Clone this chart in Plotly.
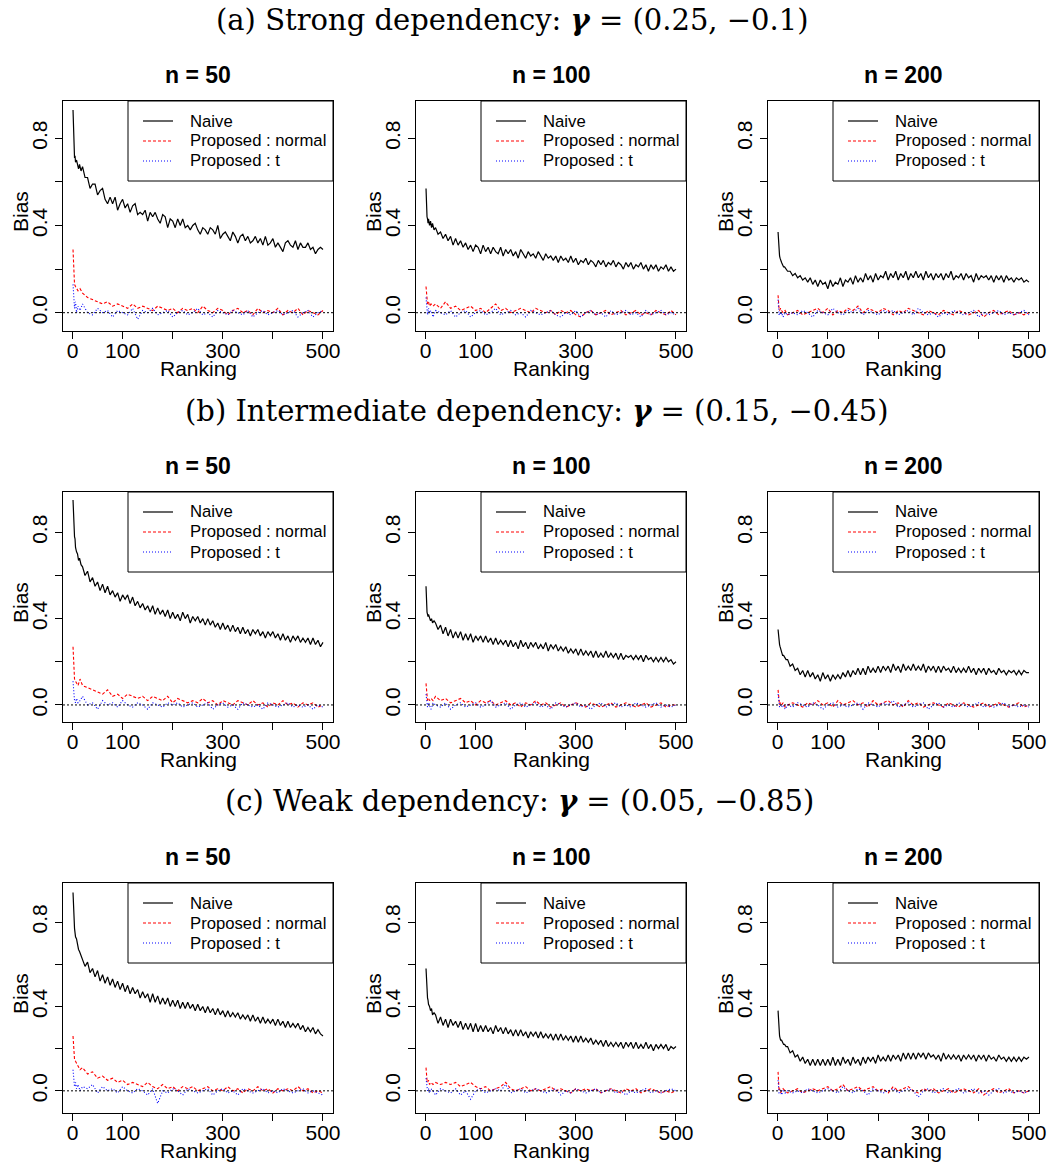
import plotly.graph_objects as go

# ---------------- data (ranks and estimated bias values) ----------------
# ranks at which the naive curves were read (denser, they are noisy bands)
RANK_FINE = [1, 2, 3, 4, 5, 6, 8, 10, 12, 14, 17,
             20, 25, 30, 35, 40, 45, 50, 55, 60, 65,
             70, 75, 80, 85, 90, 95, 100, 105, 110, 115,
             120, 125, 130, 135, 140, 145, 150, 155, 160, 165,
             170, 175, 180, 185, 190, 195, 200, 205, 210, 215,
             220, 225, 230, 235, 240, 245, 250, 255, 260, 265,
             270, 275, 280, 285, 290, 295, 300, 305, 310, 315,
             320, 325, 330, 335, 340, 345, 350, 355, 360, 365,
             370, 375, 380, 385, 390, 395, 400, 405, 410, 415,
             420, 425, 430, 435, 440, 445, 450, 455, 460, 465,
             470, 475, 480, 485, 490, 495, 500]
# ranks at which the proposed-estimator curves were read
RANK = [1, 2, 3, 4, 6, 8, 11, 15, 20, 30,
        40, 50, 60, 70, 80, 90, 100, 110, 120, 130,
        140, 150, 160, 170, 180, 190, 200, 210, 220, 230,
        240, 250, 260, 270, 280, 290, 300, 310, 320, 330,
        340, 350, 360, 370, 380, 390, 400, 410, 420, 430,
        440, 450, 460, 470, 480, 490, 500]

ROW_TITLES = ["(a) Strong dependency: <b><i>γ</i></b> = (0.25, −0.1)",
              "(b) Intermediate dependency: <b><i>γ</i></b> = (0.15, −0.45)",
              "(c) Weak dependency: <b><i>γ</i></b> = (0.05, −0.85)"]
PANEL_TITLES = ["n = 50", "n = 100", "n = 200"]
SERIES_NAMES = ["Naive", "Proposed : normal", "Proposed : t"]
X_TICKS = [0, 100, 200, 300, 400, 500]
X_TICKTEXT = ["0", "100", "", "300", "", "500"]
Y_TICKS = [0.0, 0.2, 0.4, 0.6, 0.8]
Y_TICKTEXT = ["0.0", "", "0.4", "", "0.8"]

naive_a50 = [0.93, 0.80, 0.75, 0.71, 0.72, 0.69, 0.70, 0.68, 0.66, 0.68, 0.65,
             0.67, 0.62, 0.62, 0.57, 0.59, 0.59, 0.54, 0.56, 0.57, 0.52,
             0.50, 0.53, 0.50, 0.53, 0.47, 0.50, 0.52, 0.48, 0.50, 0.46,
             0.49, 0.50, 0.45, 0.46, 0.45, 0.47, 0.42, 0.46, 0.44, 0.46,
             0.43, 0.41, 0.45, 0.44, 0.39, 0.43, 0.42, 0.39, 0.43, 0.40,
             0.43, 0.39, 0.40, 0.38, 0.40, 0.41, 0.38, 0.36, 0.39, 0.38,
             0.36, 0.39, 0.38, 0.36, 0.40, 0.34, 0.36, 0.37, 0.35, 0.33,
             0.37, 0.35, 0.32, 0.35, 0.36, 0.33, 0.35, 0.32, 0.33, 0.35,
             0.32, 0.34, 0.31, 0.35, 0.31, 0.32, 0.34, 0.30, 0.32, 0.30,
             0.28, 0.32, 0.33, 0.31, 0.30, 0.33, 0.29, 0.32, 0.30, 0.30,
             0.32, 0.29, 0.30, 0.27, 0.29, 0.30, 0.29]
red_a50 = [0.29, 0.20, 0.15, 0.13, 0.12, 0.11, 0.10, 0.11, 0.09, 0.07,
           0.06, 0.05, 0.04, 0.05, 0.03, 0.04, 0.03, 0.02, 0.04, 0.02,
           0.03, 0.02, 0.01, 0.03, 0.02, 0.01, 0.02, 0.00, 0.02, 0.01,
           0.02, 0.00, 0.03, 0.01, 0.00, 0.02, 0.01, -0.01, 0.01, 0.02,
           0.00, 0.01, -0.01, 0.02, 0.00, 0.01, 0.00, 0.02, -0.01, 0.01,
           0.00, 0.02, -0.01, 0.01, 0.00, -0.01, 0.01]
blue_a50 = [0.13, 0.07, 0.04, 0.02, 0.05, 0.00, 0.03, 0.01, 0.04, 0.00,
            -0.01, 0.02, 0.00, 0.01, -0.02, 0.01, 0.00, -0.01, 0.02, -0.03,
            0.01, 0.00, 0.02, -0.01, 0.00, 0.01, -0.02, 0.00, 0.01, -0.01,
            0.00, 0.02, -0.01, 0.00, -0.02, 0.01, 0.00, -0.01, 0.01, 0.00,
            -0.01, 0.01, -0.02, 0.00, 0.01, -0.01, 0.00, 0.01, -0.01, 0.00,
            0.01, -0.02, 0.00, 0.01, -0.02, 0.00, 0.01]

naive_a100 = [0.57, 0.47, 0.44, 0.43, 0.41, 0.43, 0.40, 0.42, 0.39, 0.41, 0.38,
              0.39, 0.36, 0.37, 0.34, 0.36, 0.33, 0.35, 0.31, 0.34, 0.31,
              0.33, 0.30, 0.32, 0.29, 0.31, 0.28, 0.31, 0.30, 0.27, 0.31,
              0.28, 0.30, 0.27, 0.30, 0.28, 0.27, 0.30, 0.26, 0.29, 0.27,
              0.29, 0.26, 0.28, 0.25, 0.29, 0.27, 0.25, 0.28, 0.26, 0.27,
              0.25, 0.28, 0.26, 0.24, 0.27, 0.25, 0.26, 0.24, 0.26, 0.23,
              0.26, 0.24, 0.25, 0.23, 0.26, 0.23, 0.25, 0.22, 0.24, 0.23,
              0.25, 0.22, 0.24, 0.23, 0.21, 0.24, 0.22, 0.24, 0.21, 0.23,
              0.22, 0.24, 0.21, 0.23, 0.22, 0.20, 0.23, 0.21, 0.23, 0.20,
              0.22, 0.21, 0.23, 0.20, 0.22, 0.19, 0.22, 0.20, 0.22, 0.19,
              0.21, 0.20, 0.22, 0.19, 0.21, 0.19, 0.20]
red_a100 = [0.12, 0.07, 0.05, 0.04, 0.05, 0.03, 0.04, 0.03, 0.04, 0.02,
            0.05, 0.02, 0.03, 0.01, 0.02, 0.03, 0.01, 0.02, 0.00, 0.02,
            0.04, 0.01, 0.02, 0.00, 0.01, 0.02, 0.01, 0.00, 0.02, 0.01,
            0.00, 0.01, -0.01, 0.01, 0.00, 0.01, -0.01, -0.02, 0.00, 0.01,
            -0.01, 0.00, 0.01, -0.01, 0.00, 0.01, -0.01, 0.00, 0.01, -0.01,
            0.00, -0.01, 0.01, 0.00, -0.01, 0.01, -0.01]
blue_a100 = [0.07, 0.03, 0.01, -0.01, 0.02, 0.00, 0.01, -0.02, 0.01, 0.00,
             -0.01, 0.01, -0.02, 0.00, 0.01, -0.02, 0.00, 0.01, -0.01, 0.00,
             0.02, -0.01, 0.00, 0.01, -0.01, 0.00, -0.02, 0.01, 0.00, -0.01,
             0.00, 0.01, -0.01, -0.02, 0.00, -0.01, 0.01, -0.02, 0.00, 0.01,
             -0.01, 0.00, -0.02, 0.01, -0.01, 0.00, 0.01, -0.01, 0.00, -0.02,
             0.01, -0.01, 0.00, 0.01, -0.01, 0.00, -0.01]

naive_a200 = [0.37, 0.31, 0.28, 0.26, 0.25, 0.24, 0.23, 0.22, 0.21, 0.21, 0.20,
              0.19, 0.19, 0.17, 0.18, 0.16, 0.17, 0.15, 0.16, 0.14, 0.16,
              0.13, 0.15, 0.12, 0.15, 0.13, 0.14, 0.11, 0.15, 0.12, 0.14,
              0.13, 0.16, 0.12, 0.15, 0.14, 0.16, 0.13, 0.17, 0.14, 0.16,
              0.14, 0.18, 0.15, 0.17, 0.14, 0.18, 0.15, 0.17, 0.16, 0.19,
              0.15, 0.18, 0.16, 0.19, 0.15, 0.18, 0.16, 0.19, 0.15, 0.18,
              0.16, 0.19, 0.16, 0.18, 0.15, 0.19, 0.16, 0.18, 0.15, 0.18,
              0.16, 0.18, 0.15, 0.18, 0.16, 0.19, 0.15, 0.17, 0.16, 0.18,
              0.15, 0.18, 0.16, 0.17, 0.14, 0.18, 0.15, 0.17, 0.16, 0.17,
              0.15, 0.17, 0.14, 0.17, 0.15, 0.17, 0.14, 0.17, 0.15, 0.16,
              0.14, 0.16, 0.15, 0.16, 0.14, 0.15, 0.14]
red_a200 = [0.08, 0.03, 0.02, 0.01, 0.02, 0.01, 0.00, 0.01, -0.01, 0.00,
            0.01, -0.01, 0.00, 0.01, 0.02, 0.00, 0.02, -0.01, 0.01, 0.00,
            0.02, 0.01, 0.03, 0.00, 0.02, 0.01, 0.00, 0.02, 0.01, -0.01,
            0.01, 0.00, 0.02, 0.01, 0.00, -0.01, 0.01, 0.00, -0.01, 0.01,
            0.00, -0.01, 0.01, 0.00, -0.01, 0.00, 0.01, -0.02, 0.00, 0.01,
            -0.01, 0.00, 0.01, -0.01, 0.00, -0.01, 0.00]
blue_a200 = [0.06, 0.01, -0.01, 0.00, -0.01, 0.00, -0.02, 0.00, -0.01, 0.00,
             -0.01, 0.01, 0.00, -0.02, 0.01, 0.00, -0.01, 0.02, 0.00, -0.01,
             0.01, 0.00, 0.02, -0.01, 0.01, 0.00, -0.01, 0.01, 0.00, 0.01,
             -0.01, 0.00, 0.01, -0.01, 0.02, 0.00, -0.01, 0.00, -0.02, 0.00,
             -0.01, 0.01, 0.00, -0.01, 0.00, 0.01, -0.02, 0.00, -0.01, 0.00,
             0.01, -0.01, 0.00, -0.01, 0.00, 0.01, -0.01]

naive_b50 = [0.95, 0.84, 0.80, 0.78, 0.77, 0.73, 0.71, 0.70, 0.67, 0.68, 0.65,
             0.64, 0.60, 0.62, 0.57, 0.59, 0.55, 0.57, 0.53, 0.56, 0.52,
             0.55, 0.51, 0.53, 0.50, 0.52, 0.48, 0.51, 0.49, 0.51, 0.47,
             0.50, 0.46, 0.48, 0.45, 0.47, 0.44, 0.46, 0.43, 0.46, 0.42,
             0.45, 0.42, 0.44, 0.41, 0.44, 0.40, 0.43, 0.40, 0.42, 0.39,
             0.43, 0.40, 0.42, 0.38, 0.41, 0.39, 0.41, 0.38, 0.40, 0.37,
             0.40, 0.37, 0.39, 0.36, 0.38, 0.35, 0.38, 0.35, 0.37, 0.34,
             0.37, 0.34, 0.36, 0.33, 0.36, 0.33, 0.35, 0.32, 0.35, 0.33,
             0.35, 0.32, 0.34, 0.31, 0.34, 0.32, 0.34, 0.31, 0.33, 0.30,
             0.33, 0.30, 0.32, 0.29, 0.32, 0.30, 0.32, 0.29, 0.31, 0.29,
             0.31, 0.28, 0.31, 0.28, 0.30, 0.27, 0.29]
red_b50 = [0.27, 0.18, 0.14, 0.12, 0.11, 0.10, 0.09, 0.12, 0.09, 0.08,
           0.07, 0.06, 0.05, 0.07, 0.04, 0.05, 0.03, 0.05, 0.04, 0.03,
           0.04, 0.02, 0.04, 0.03, 0.02, 0.04, 0.01, 0.03, 0.02, 0.01,
           0.02, 0.01, 0.03, 0.01, 0.02, 0.00, 0.02, 0.01, 0.00, 0.02,
           0.01, 0.00, 0.02, 0.00, 0.01, -0.01, 0.01, 0.00, 0.02, 0.00,
           0.01, -0.01, 0.01, 0.00, 0.01, -0.01, 0.00]
blue_b50 = [0.11, 0.05, 0.03, 0.02, 0.01, 0.03, 0.01, 0.02, 0.04, 0.00,
            0.01, -0.02, 0.02, 0.00, 0.01, -0.01, 0.02, 0.00, -0.01, 0.01,
            0.00, -0.02, 0.01, 0.00, -0.01, 0.01, 0.00, 0.01, -0.01, 0.00,
            0.01, -0.01, 0.00, 0.01, -0.02, 0.00, 0.01, -0.01, 0.00, -0.02,
            0.01, 0.00, -0.01, 0.00, -0.02, 0.01, 0.00, -0.01, 0.00, 0.01,
            -0.01, 0.00, -0.01, 0.00, -0.02, 0.00, -0.01]

naive_b100 = [0.55, 0.46, 0.43, 0.42, 0.41, 0.42, 0.40, 0.39, 0.40, 0.38, 0.39,
              0.38, 0.35, 0.37, 0.33, 0.36, 0.32, 0.35, 0.31, 0.34, 0.31,
              0.34, 0.30, 0.33, 0.30, 0.33, 0.29, 0.32, 0.30, 0.32, 0.29,
              0.32, 0.29, 0.31, 0.28, 0.31, 0.28, 0.30, 0.28, 0.30, 0.27,
              0.30, 0.27, 0.29, 0.26, 0.30, 0.27, 0.29, 0.26, 0.29, 0.27,
              0.29, 0.26, 0.28, 0.26, 0.29, 0.25, 0.28, 0.26, 0.28, 0.25,
              0.27, 0.25, 0.27, 0.24, 0.26, 0.24, 0.26, 0.23, 0.26, 0.23,
              0.25, 0.23, 0.25, 0.22, 0.25, 0.22, 0.24, 0.22, 0.25, 0.22,
              0.24, 0.22, 0.24, 0.21, 0.24, 0.21, 0.23, 0.22, 0.23, 0.21,
              0.23, 0.21, 0.23, 0.20, 0.23, 0.21, 0.22, 0.20, 0.22, 0.20,
              0.22, 0.20, 0.22, 0.20, 0.21, 0.19, 0.20]
red_b100 = [0.10, 0.05, 0.03, 0.02, 0.03, 0.02, 0.03, 0.02, 0.04, 0.02,
            0.03, 0.01, 0.02, 0.03, 0.01, 0.02, 0.00, 0.02, 0.01, 0.02,
            0.00, 0.01, 0.02, 0.00, 0.01, -0.01, 0.01, 0.00, 0.02, 0.00,
            0.01, -0.01, 0.00, 0.01, -0.01, 0.00, 0.01, 0.00, -0.01, 0.01,
            0.00, -0.01, 0.00, 0.01, -0.01, 0.00, 0.01, 0.00, -0.01, 0.00,
            0.01, -0.01, 0.00, 0.01, -0.01, 0.00, 0.00]
blue_b100 = [0.05, 0.02, 0.00, -0.01, 0.01, 0.00, -0.02, 0.01, 0.00, -0.01,
             0.01, -0.02, 0.00, 0.01, -0.01, 0.00, 0.01, -0.01, 0.00, 0.02,
             -0.01, 0.00, 0.01, -0.02, 0.00, 0.01, -0.01, 0.00, 0.01, -0.01,
             0.00, -0.02, 0.01, 0.00, -0.01, 0.00, 0.01, -0.01, 0.00, -0.02,
             0.00, 0.01, -0.01, 0.00, 0.01, -0.01, 0.00, -0.01, 0.01, 0.00,
             -0.01, 0.00, 0.01, -0.01, 0.00, -0.01, 0.00]

naive_b200 = [0.35, 0.31, 0.29, 0.28, 0.27, 0.26, 0.25, 0.23, 0.23, 0.22, 0.21,
              0.21, 0.18, 0.19, 0.16, 0.17, 0.14, 0.16, 0.13, 0.16, 0.13,
              0.15, 0.12, 0.14, 0.11, 0.15, 0.12, 0.14, 0.11, 0.14, 0.12,
              0.14, 0.12, 0.15, 0.13, 0.16, 0.13, 0.16, 0.14, 0.17, 0.14,
              0.17, 0.14, 0.18, 0.15, 0.17, 0.15, 0.18, 0.15, 0.18, 0.16,
              0.18, 0.15, 0.19, 0.16, 0.18, 0.15, 0.19, 0.16, 0.18, 0.16,
              0.19, 0.16, 0.18, 0.16, 0.19, 0.15, 0.18, 0.16, 0.18, 0.15,
              0.18, 0.15, 0.18, 0.16, 0.17, 0.15, 0.18, 0.15, 0.17, 0.15,
              0.17, 0.15, 0.18, 0.15, 0.17, 0.14, 0.17, 0.15, 0.17, 0.14,
              0.17, 0.15, 0.16, 0.14, 0.17, 0.15, 0.16, 0.14, 0.16, 0.15,
              0.16, 0.14, 0.16, 0.14, 0.16, 0.15, 0.15]
red_b200 = [0.07, 0.03, 0.01, 0.00, 0.01, 0.00, 0.01, -0.01, 0.00, 0.01,
            0.00, -0.01, 0.01, 0.00, 0.02, 0.00, 0.01, -0.01, 0.02, 0.00,
            0.01, 0.02, 0.00, 0.01, -0.01, 0.02, 0.00, 0.01, 0.02, 0.00,
            0.01, -0.01, 0.02, 0.00, 0.01, -0.01, 0.00, 0.01, 0.00, -0.01,
            0.01, 0.00, -0.01, 0.01, 0.00, -0.01, 0.00, 0.01, -0.01, 0.00,
            0.01, 0.00, -0.01, 0.00, 0.01, -0.01, 0.00]
blue_b200 = [0.05, 0.01, 0.00, -0.01, 0.00, -0.01, 0.00, -0.02, 0.00, -0.01,
             0.01, 0.00, -0.01, 0.01, 0.00, -0.02, 0.00, 0.01, -0.01, 0.00,
             -0.01, 0.00, 0.01, -0.02, 0.01, 0.00, -0.01, 0.01, 0.00, 0.02,
             -0.01, 0.00, 0.01, -0.01, 0.00, 0.01, -0.02, 0.00, 0.01, -0.01,
             0.00, -0.01, 0.01, 0.00, -0.01, 0.00, 0.01, -0.01, 0.00, -0.01,
             0.00, 0.01, -0.01, 0.00, -0.01, 0.00, -0.01]

naive_c50 = [0.94, 0.85, 0.80, 0.77, 0.75, 0.73, 0.72, 0.69, 0.67, 0.66, 0.64,
             0.63, 0.59, 0.61, 0.56, 0.58, 0.54, 0.57, 0.52, 0.55, 0.51,
             0.54, 0.50, 0.53, 0.49, 0.52, 0.48, 0.51, 0.47, 0.50, 0.46,
             0.49, 0.46, 0.48, 0.44, 0.47, 0.44, 0.46, 0.42, 0.46, 0.42,
             0.45, 0.41, 0.44, 0.41, 0.44, 0.40, 0.43, 0.40, 0.43, 0.39,
             0.42, 0.39, 0.42, 0.39, 0.41, 0.38, 0.41, 0.38, 0.40, 0.37,
             0.40, 0.37, 0.39, 0.36, 0.39, 0.36, 0.38, 0.35, 0.38, 0.35,
             0.37, 0.35, 0.37, 0.34, 0.36, 0.34, 0.36, 0.33, 0.36, 0.33,
             0.35, 0.32, 0.35, 0.32, 0.34, 0.32, 0.34, 0.31, 0.34, 0.31,
             0.33, 0.30, 0.33, 0.30, 0.32, 0.30, 0.32, 0.29, 0.31, 0.28,
             0.30, 0.28, 0.30, 0.27, 0.29, 0.27, 0.26]
red_c50 = [0.26, 0.19, 0.16, 0.15, 0.14, 0.13, 0.12, 0.10, 0.11, 0.08,
           0.09, 0.06, 0.07, 0.05, 0.06, 0.04, 0.05, 0.03, 0.04, 0.03,
           0.02, 0.04, 0.02, 0.01, 0.03, 0.01, 0.02, 0.00, 0.02, 0.01,
           0.02, 0.00, 0.01, 0.02, 0.00, 0.01, 0.00, 0.02, 0.00, 0.01,
           -0.01, 0.01, 0.00, 0.02, 0.00, 0.01, -0.01, 0.01, 0.00, 0.01,
           0.00, 0.02, 0.00, 0.01, -0.01, 0.00, -0.01]
blue_c50 = [0.10, 0.05, 0.03, 0.02, 0.04, 0.01, 0.03, 0.00, 0.02, 0.01,
            0.03, -0.01, 0.02, 0.00, 0.01, -0.01, 0.02, 0.00, -0.01, 0.01,
            0.00, -0.02, 0.01, -0.06, 0.00, -0.01, 0.01, 0.00, -0.02, 0.01,
            0.00, -0.01, 0.00, 0.01, -0.02, 0.00, 0.01, -0.01, 0.00, -0.02,
            0.01, 0.00, -0.01, 0.00, 0.01, -0.01, 0.00, -0.01, 0.01, 0.00,
            -0.01, 0.00, 0.01, -0.01, 0.00, -0.01, -0.02]

naive_c100 = [0.58, 0.49, 0.46, 0.44, 0.43, 0.41, 0.40, 0.38, 0.39, 0.36, 0.37,
              0.36, 0.32, 0.35, 0.31, 0.34, 0.30, 0.34, 0.31, 0.33, 0.30,
              0.33, 0.29, 0.32, 0.29, 0.32, 0.28, 0.32, 0.28, 0.31, 0.28,
              0.31, 0.28, 0.30, 0.27, 0.31, 0.28, 0.30, 0.27, 0.30, 0.27,
              0.29, 0.26, 0.29, 0.26, 0.29, 0.26, 0.28, 0.25, 0.28, 0.26,
              0.28, 0.25, 0.28, 0.25, 0.27, 0.25, 0.27, 0.24, 0.27, 0.24,
              0.27, 0.24, 0.26, 0.24, 0.26, 0.23, 0.26, 0.23, 0.26, 0.23,
              0.25, 0.23, 0.25, 0.22, 0.24, 0.22, 0.24, 0.21, 0.24, 0.21,
              0.23, 0.21, 0.23, 0.21, 0.23, 0.20, 0.23, 0.21, 0.23, 0.20,
              0.23, 0.20, 0.22, 0.20, 0.23, 0.20, 0.22, 0.19, 0.22, 0.20,
              0.22, 0.20, 0.22, 0.19, 0.21, 0.20, 0.21]
red_c100 = [0.11, 0.06, 0.05, 0.04, 0.05, 0.03, 0.04, 0.03, 0.04, 0.03,
            0.04, 0.03, 0.04, 0.02, 0.03, 0.04, 0.02, 0.01, 0.02, 0.00,
            0.01, 0.02, 0.04, 0.01, 0.00, 0.01, 0.02, 0.00, 0.01, 0.00,
            0.01, 0.02, 0.00, 0.01, 0.00, -0.01, 0.01, 0.00, 0.01, 0.00,
            0.01, -0.01, 0.00, 0.01, 0.00, -0.01, 0.01, 0.00, 0.01, -0.01,
            0.00, 0.01, 0.00, -0.01, 0.00, -0.01, 0.00]
blue_c100 = [0.06, 0.02, 0.01, 0.00, 0.01, -0.01, 0.01, 0.00, -0.02, 0.01,
             0.00, -0.01, 0.01, -0.02, 0.00, -0.04, 0.00, 0.01, -0.01, 0.00,
             0.01, 0.00, 0.03, -0.01, 0.00, 0.01, -0.01, 0.00, 0.01, 0.00,
             -0.01, 0.00, 0.01, -0.02, 0.00, -0.01, 0.01, 0.00, -0.01, 0.00,
             0.01, -0.01, 0.00, 0.01, -0.01, 0.00, -0.02, 0.00, -0.01, 0.00,
             0.01, -0.01, 0.00, -0.01, 0.00, 0.01, 0.00]

naive_c200 = [0.38, 0.31, 0.27, 0.26, 0.25, 0.24, 0.24, 0.23, 0.22, 0.22, 0.21,
              0.21, 0.18, 0.19, 0.16, 0.17, 0.14, 0.16, 0.13, 0.15, 0.12,
              0.15, 0.12, 0.15, 0.12, 0.15, 0.12, 0.15, 0.12, 0.16, 0.12,
              0.15, 0.12, 0.16, 0.13, 0.15, 0.12, 0.16, 0.13, 0.15, 0.12,
              0.16, 0.13, 0.16, 0.14, 0.16, 0.13, 0.17, 0.14, 0.16, 0.14,
              0.17, 0.14, 0.17, 0.15, 0.17, 0.14, 0.18, 0.15, 0.18, 0.15,
              0.18, 0.15, 0.18, 0.16, 0.18, 0.15, 0.18, 0.16, 0.17, 0.15,
              0.17, 0.14, 0.18, 0.15, 0.17, 0.15, 0.17, 0.15, 0.17, 0.14,
              0.17, 0.15, 0.17, 0.15, 0.17, 0.14, 0.17, 0.15, 0.17, 0.14,
              0.17, 0.15, 0.16, 0.14, 0.17, 0.15, 0.16, 0.14, 0.16, 0.14,
              0.16, 0.14, 0.16, 0.14, 0.16, 0.15, 0.16]
red_c200 = [0.09, 0.02, 0.00, 0.01, -0.01, 0.00, 0.01, 0.00, -0.01, 0.00,
            0.01, -0.01, 0.00, 0.01, 0.00, 0.01, 0.02, 0.00, 0.01, 0.03,
            0.00, 0.01, 0.02, 0.00, 0.01, 0.02, 0.00, 0.01, -0.01, 0.02,
            0.00, 0.01, 0.02, 0.00, -0.01, 0.01, 0.00, 0.01, -0.01, 0.00,
            0.01, -0.01, 0.00, 0.01, 0.00, -0.01, 0.01, -0.02, 0.00, 0.01,
            -0.01, 0.00, 0.01, -0.01, 0.00, -0.01, 0.00]
blue_c200 = [0.05, 0.00, -0.01, -0.01, 0.00, -0.02, 0.00, -0.01, 0.00, -0.01,
             0.00, -0.01, 0.01, 0.00, -0.01, 0.00, 0.01, 0.00, -0.01, 0.02,
             0.00, -0.01, 0.01, 0.00, -0.02, 0.01, 0.00, -0.01, 0.00, 0.01,
             -0.01, 0.00, 0.01, 0.00, -0.03, 0.00, 0.01, -0.01, 0.00, 0.01,
             -0.01, 0.00, 0.01, -0.01, 0.00, 0.01, -0.01, 0.00, -0.02, 0.00,
             0.01, -0.01, 0.00, -0.01, 0.00, -0.01, 0.00]

PANELS = [
    [(naive_a50, red_a50, blue_a50), (naive_a100, red_a100, blue_a100), (naive_a200, red_a200, blue_a200)],
    [(naive_b50, red_b50, blue_b50), (naive_b100, red_b100, blue_b100), (naive_b200, red_b200, blue_b200)],
    [(naive_c50, red_c50, blue_c50), (naive_c100, red_c100, blue_c100), (naive_c200, red_c200, blue_c200)],
]
Y_RANGES = [[-0.084, 0.971], [-0.079, 0.987], [-0.105, 0.985]]
X_RANGE = [-19, 520]

# ---------------- layout geometry (pixels) ----------------
W, H = 1049, 1162
COLS = [(63, 333), (416, 686), (768, 1039)]
ROWS = [(101, 331), (492, 722), (883, 1113)]
ROW_TITLE_Y = [20, 411, 801]
ROW_TITLE_X = [512, 537, 519]

SANS = "Liberation Sans, Arial, sans-serif"
SERIF = "DejaVu Serif, serif"


def px(x):
    return x / W


def py(y):
    return 1 - y / H


STYLES = [dict(color="black", width=1.2, dash="solid"),
          dict(color="red", width=1.1, dash="3px,2px"),
          dict(color="blue", width=1.1, dash="1px,2px")]

fig = go.Figure()
layout = dict(width=W, height=H, margin=dict(l=0, r=0, t=0, b=0),
              paper_bgcolor="white", plot_bgcolor="white", showlegend=False)
annotations = []
shapes = []
TXT = dict(family=SANS, color="black")

for r in range(3):
    for c in range(3):
        k = r * 3 + c + 1
        sfx = "" if k == 1 else str(k)
        xa, ya = "x" + sfx, "y" + sfx
        for s in range(3):
            xs = RANK_FINE if s == 0 else RANK
            fig.add_trace(go.Scatter(
                x=xs, y=PANELS[r][c][s], mode="lines", name=SERIES_NAMES[s],
                line=STYLES[s], xaxis=xa, yaxis=ya, hoverinfo="skip"))
        x0, x1 = COLS[c]
        top, bot = ROWS[r]
        common = dict(showline=True, mirror=True, linecolor="black", linewidth=1,
                      ticks="outside", ticklen=7, tickwidth=1, tickcolor="black",
                      showgrid=False, zeroline=False, automargin=False,
                      tickfont=dict(TXT, size=21), tickmode="array", fixedrange=True)
        layout["xaxis" + sfx] = dict(
            common, domain=[px(x0), px(x1)], range=X_RANGE, anchor=ya,
            tickvals=X_TICKS, ticktext=X_TICKTEXT, ticklabelstandoff=-6)
        layout["yaxis" + sfx] = dict(
            common, domain=[py(bot), py(top)], range=Y_RANGES[r], anchor=xa,
            tickvals=Y_TICKS, ticktext=Y_TICKTEXT, tickangle=-90)
        # zero reference line
        shapes.append(dict(type="line", xref=xa + " domain", x0=0, x1=1,
                           yref=ya, y0=0, y1=0,
                           line=dict(color="black", width=1, dash="2px,2px")))
        # axis titles
        annotations.append(dict(text="Ranking", xref="paper", yref="paper",
                                x=px((x0 + x1) / 2), y=py(bot + 37),
                                xanchor="center", yanchor="middle", showarrow=False,
                                font=dict(TXT, size=21)))
        annotations.append(dict(text="Bias", xref="paper", yref="paper",
                                x=px(x0 - 43), y=py((top + bot) / 2 - 4), textangle=-90,
                                xanchor="center", yanchor="middle", showarrow=False,
                                font=dict(TXT, size=21)))
        # panel title
        annotations.append(dict(text="<b>" + PANEL_TITLES[c] + "</b>", xref="paper", yref="paper",
                                x=px((x0 + x1) / 2), y=py(top - 26),
                                xanchor="center", yanchor="middle", showarrow=False,
                                font=dict(TXT, size=23)))
        # legend box
        shapes.append(dict(type="rect", xref="paper", yref="paper", layer="above",
                           x0=px(x0 + 65), x1=px(x1), y0=py(top + 80), y1=py(top),
                           fillcolor="white", line=dict(color="black", width=1)))
        for s in range(3):
            ly = top + 20 + 20 * s
            shapes.append(dict(type="line", xref="paper", yref="paper", layer="above",
                               x0=px(x0 + 80), x1=px(x0 + 110), y0=py(ly), y1=py(ly),
                               line=STYLES[s]))
            annotations.append(dict(text=SERIES_NAMES[s], xref="paper", yref="paper",
                                    x=px(x0 + 125), y=py(ly), xanchor="left", yanchor="middle",
                                    showarrow=False, font=dict(TXT, size=16.7)))
    annotations.append(dict(text=ROW_TITLES[r], xref="paper", yref="paper",
                            x=px(ROW_TITLE_X[r]), y=py(ROW_TITLE_Y[r]),
                            xanchor="center", yanchor="middle", showarrow=False,
                            font=dict(family=SERIF, size=29, color="black")))

layout["annotations"] = annotations
layout["shapes"] = shapes
fig.update_layout(**layout)
fig.write_html("out.html", config={"displayModeBar": False},
               post_script="document.body.style.margin='0';document.body.style.overflow='hidden';")
